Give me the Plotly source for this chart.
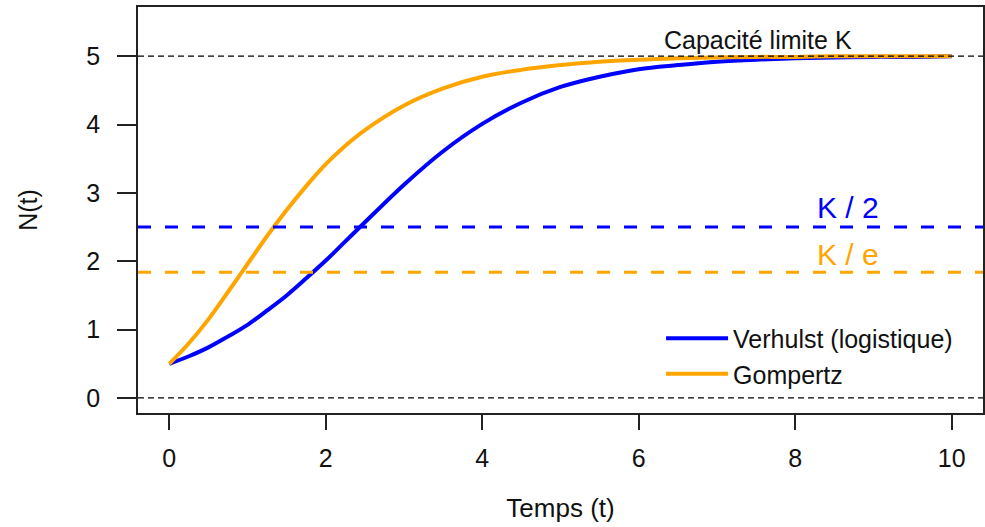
import plotly.graph_objects as go

# ---- data ----
t = [0, 0.25, 0.5, 0.75, 1, 1.25, 1.5, 1.75, 2, 2.25, 2.5, 3, 3.5, 4, 4.5, 5, 5.5, 6,
     6.5, 7, 7.5, 8, 8.5, 9, 9.5, 10]
verhulst = [0.50, 0.61, 0.74, 0.90, 1.07, 1.28, 1.50, 1.75, 2.01, 2.29, 2.57, 3.12, 3.61,
            4.01, 4.32, 4.55, 4.70, 4.81, 4.87, 4.92, 4.95, 4.97, 4.98, 4.99, 4.99, 5.00]
gompertz = [0.50, 0.80, 1.15, 1.55, 1.96, 2.37, 2.75, 3.10, 3.42, 3.69, 3.92, 4.28, 4.53,
            4.70, 4.80, 4.87, 4.92, 4.95, 4.97, 4.98, 4.99, 4.99, 5.00, 5.00, 5.00, 5.00]
K = 5.0
K_half = 2.5
K_e = 1.84
x_ticks = [0, 2, 4, 6, 8, 10]
y_ticks = [0, 1, 2, 3, 4, 5]

BLUE = "#0000FF"
ORANGE = "#FFA500"
FONT = "Liberation Sans"

fig = go.Figure()
fig.add_trace(go.Scatter(x=t, y=verhulst, mode="lines", name="Verhulst (logistique)",
                         line=dict(color=BLUE, width=4, shape="spline")))
fig.add_trace(go.Scatter(x=t, y=gompertz, mode="lines", name="Gompertz",
                         line=dict(color=ORANGE, width=4, shape="spline")))

# horizontal reference lines (full width)
for yv, col, w, d in [(0, "black", 1.3, "6px,4px"), (K, "black", 1.3, "6px,4px"),
                      (K_half, BLUE, 3, "13px,14px"), (K_e, ORANGE, 3, "13px,14px")]:
    fig.add_shape(type="line", xref="paper", x0=0, x1=1, yref="y", y0=yv, y1=yv,
                  line=dict(color=col, width=w, dash=d), layer="above")

fig.add_annotation(x=7.52, y=5.23, text="Capacité limite K", showarrow=False,
                   font=dict(family=FONT, size=25, color="#111"))
fig.add_annotation(x=8.68, y=2.785, text="K / 2", showarrow=False,
                   font=dict(family=FONT, size=30, color=BLUE))
fig.add_annotation(x=8.68, y=2.105, text="K / e", showarrow=False,
                   font=dict(family=FONT, size=30, color=ORANGE))

axis_common = dict(showline=True, linecolor="#222", linewidth=1.5, mirror=True,
                   ticks="outside", tickcolor="#222", tickwidth=1.5,
                   showgrid=False, zeroline=False,
                   tickfont=dict(family=FONT, size=25, color="#111"))

fig.update_xaxes(range=[-0.4, 10.4], tickvals=x_ticks, ticklen=15,
                 ticklabelstandoff=7,
                 title=dict(text="Temps (t)", font=dict(family=FONT, size=26, color="#111"),
                            standoff=28),
                 **axis_common)
fig.update_yaxes(range=[-0.22, 5.72], tickvals=y_ticks, ticklen=19,
                 ticklabelstandoff=12,
                 title=dict(text="N(t)", font=dict(family=FONT, size=25, color="#111"),
                            standoff=42),
                 **axis_common)

fig.update_layout(
    width=985, height=527,
    margin=dict(l=138, r=2, t=7, b=114, autoexpand=False),
    paper_bgcolor="white", plot_bgcolor="white",
    showlegend=True,
    legend=dict(x=0.619, y=0.24, xanchor="left", yanchor="top",
                bgcolor="rgba(0,0,0,0)", borderwidth=0,
                font=dict(family=FONT, size=25, color="#111"),
                itemwidth=62, tracegroupgap=0),
)

fig.write_html("out.html")
